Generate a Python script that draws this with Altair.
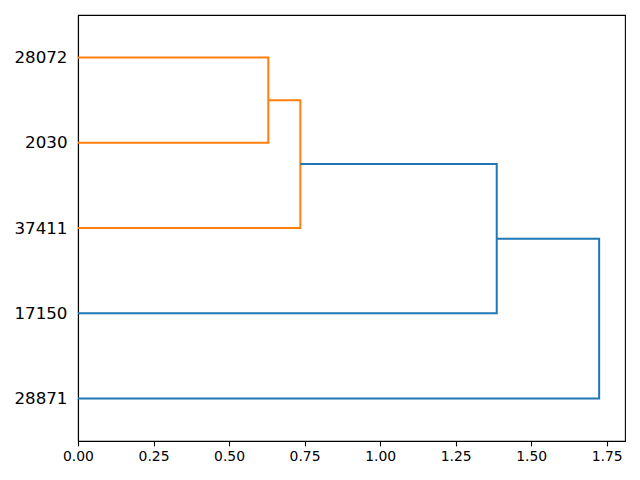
import altair as alt
import pandas as pd

# leaf labels, bottom to top (scipy leaf positions 5, 15, 25, ...)
leaf_labels = ["28871", "17150", "37411", "2030", "28072"]
leaf_pos = [5, 15, 25, 35, 45]

# dendrogram links (scipy-style icoord / dcoord), in merge order
icoord = [
    [35, 35, 45, 45],
    [25, 25, 40, 40],
    [15, 15, 32.5, 32.5],
    [5, 5, 23.75, 23.75],
]
dcoord = [
    [0.0, 0.630, 0.630, 0.0],
    [0.0, 0.736, 0.736, 0.630],
    [0.0, 1.386, 1.386, 0.736],
    [0.0, 1.725, 1.725, 1.386],
]
link_colors = ["#ff7f0e", "#ff7f0e", "#1f77b4", "#1f77b4"]

rows = []
for k, (ys, xs, c) in enumerate(zip(icoord, dcoord, link_colors)):
    for j, (yv, xv) in enumerate(zip(ys, xs)):
        rows.append({"link": k, "step": j, "x": xv, "y": yv, "color": c})
df = pd.DataFrame(rows)

label_map = "{" + ", ".join(f"'{p}': '{l}'" for p, l in zip(leaf_pos, leaf_labels)) + "}"

chart = alt.Chart(df).mark_line(strokeWidth=2).encode(
    x=alt.X("x:Q", scale=alt.Scale(domain=[0, 1.8106], nice=False, zero=False),
            axis=alt.Axis(values=[0, 0.25, 0.5, 0.75, 1.0, 1.25, 1.5, 1.75], format=".2f",
                          title=None, grid=False, labelFontSize=13.9, tickSize=4.9,
                          tickWidth=1.1, domainWidth=1.1,
                          labelPadding=4, domainColor="black", tickColor="black",
                          labelColor="black", labelFont="DejaVu Sans", labelFlush=False)),
    y=alt.Y("y:Q", scale=alt.Scale(domain=[0, 50], nice=False, zero=False),
            axis=alt.Axis(values=leaf_pos, labelExpr=f"{label_map}[datum.value]",
                          title=None, grid=False, labelFontSize=16.7, tickSize=0,
                          domainWidth=1.1,
                          labelPadding=11, domainColor="black", labelColor="black",
                          labelFont="DejaVu Sans", labelFlush=False)),
    detail="link:N",
    order="step:Q",
    color=alt.Color("color:N", scale=None),
).properties(
    width=547, height=426,
    autosize=alt.AutoSizeParams(type="none"),
    padding={"left": 70, "top": 7, "right": 7, "bottom": 31},
).configure(background="white").configure_view(stroke="black", strokeWidth=1.1)

chart.save("out.html", embed_options={"renderer": "svg", "actions": False})
